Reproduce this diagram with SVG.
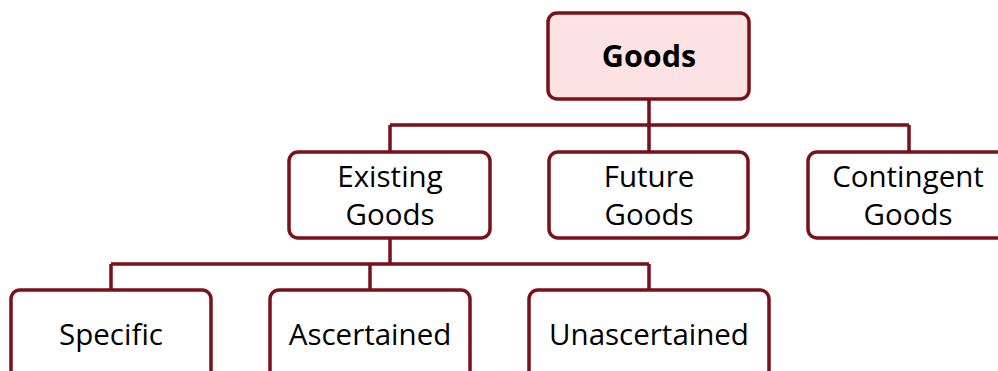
<svg xmlns="http://www.w3.org/2000/svg" width="998" height="371" viewBox="0 0 998 371">
<style>
.box{fill:#ffffff;stroke:#7a1119;stroke-width:3.5}
.root{fill:#fde2e4}
.con{fill:none;stroke:#7a1119;stroke-width:3.5}
text{font-family:"Open Sans","Noto Sans",sans-serif;font-size:29.5px;fill:#000;text-anchor:middle}
.b{font-weight:bold;font-size:30.5px}
</style>
<g id="connectors">
<path class="con" d="M649 99V125M390 125H909M390 125V151M649 125V151M909 125V151"/>
<path class="con" d="M390 238V264M111 264H649M111 264V289M370 264V289M649 264V289"/>
</g>
<g id="goods"><rect class="box root" x="548" y="13" width="201" height="86" rx="9"/><text class="b" x="649" y="67">Goods</text></g>
<g id="existing"><rect class="box" x="289" y="152" width="201" height="86" rx="9"/><text x="390" y="187">Existing</text><text x="390" y="225">Goods</text></g>
<g id="future"><rect class="box" x="549" y="152" width="199" height="86" rx="9"/><text x="649" y="187">Future</text><text x="649" y="225">Goods</text></g>
<g id="contingent"><rect class="box" x="808" y="152" width="200" height="86" rx="9"/><text x="908" y="187">Contingent</text><text x="908" y="225">Goods</text></g>
<g id="specific"><rect class="box" x="11" y="290" width="200" height="100" rx="9"/><text x="111" y="345">Specific</text></g>
<g id="ascertained"><rect class="box" x="270" y="290" width="200" height="100" rx="9"/><text x="370" y="345">Ascertained</text></g>
<g id="unascertained"><rect class="box" x="529" y="290" width="240" height="100" rx="9"/><text x="649" y="345">Unascertained</text></g>
</svg>
